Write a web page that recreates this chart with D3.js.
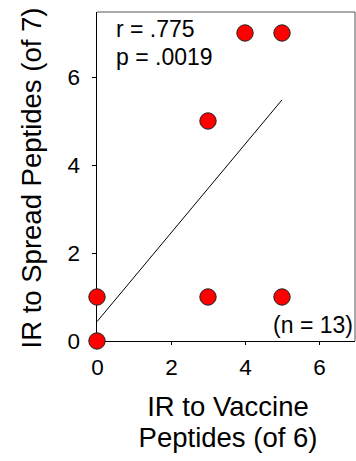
<!DOCTYPE html>
<html><head><meta charset="utf-8">
<script src="https://cdn.jsdelivr.net/npm/d3@7"></script>
<style>body{margin:0;background:#fff}svg{display:block}text{font-family:Arial,"Liberation Sans",sans-serif;fill:#000}</style>
</head><body>
<script>
const xValues = [0, 0, 3, 5, 3, 4, 5];
const yValues = [0, 1, 1, 1, 5, 7, 7];
const xTicks = [0, 2, 4, 6];
const yTicks = [0, 2, 4, 6];
const fitIntercept = 0.44;
const fitSlope = 1.008;
const fitRange = [0, 5];
const statLines = ["r = .775", "p = .0019"];
const nLabel = "(n = 13)";
const xTitle = ["IR to Vaccine", "Peptides (of 6)"];
const yTitle = "IR to Spread Peptides (of 7)";

const W = 356, H = 461;
const L = 97, R = 355, T = 12, B = 341;
const svg = d3.select("body").append("svg").attr("width", W).attr("height", H);
const x = d3.scaleLinear().domain([0, 7]).range([L, L + 37 * 7]);
const y = d3.scaleLinear().domain([0, 7.5]).range([B, B - 44 * 7.5]);

// frame
svg.append("path").attr("d", `M${L},${T}H${R}V${B}`).attr("fill", "none").attr("stroke", "#555").attr("stroke-width", 1);

// axes
const xa = svg.append("g").attr("transform", `translate(0,${B})`)
  .call(d3.axisBottom(x).tickValues(xTicks).tickSize(4).tickPadding(14).tickFormat(d3.format("d")));
xa.select(".domain").attr("d", `M${L},0.5H${R}`).attr("stroke", "#000");
xa.selectAll("text").attr("font-size", 22.5).attr("font-family", "Arial, 'Liberation Sans', sans-serif");
const ya = svg.append("g").attr("transform", `translate(${L},0)`)
  .call(d3.axisLeft(y).tickValues(yTicks).tickSize(5).tickPadding(12).tickFormat(d3.format("d")));
ya.select(".domain").attr("d", `M-0.5,${B}V${T}`).attr("stroke", "#000");
ya.selectAll("text").attr("font-size", 22.5).attr("font-family", "Arial, 'Liberation Sans', sans-serif");

// regression line
svg.append("line")
  .attr("x1", x(fitRange[0])).attr("y1", y(fitIntercept + fitSlope * fitRange[0]))
  .attr("x2", x(fitRange[1])).attr("y2", y(fitIntercept + fitSlope * fitRange[1]))
  .attr("stroke", "#000").attr("stroke-width", 1);

// points
svg.append("g").selectAll("circle").data(xValues.map((v, i) => [v, yValues[i]])).join("circle")
  .attr("cx", d => x(d[0])).attr("cy", d => y(d[1])).attr("r", 8.2)
  .attr("fill", "#ff0000").attr("stroke", "#222").attr("stroke-width", 1);

// annotations
svg.append("g").selectAll("text").data(statLines).join("text")
  .attr("x", 116).attr("y", (d, i) => 37 + i * 28).attr("font-size", 23).text(d => d);
svg.append("text").attr("x", 353).attr("y", 333).attr("text-anchor", "end").attr("font-size", 23).text(nLabel);

// titles
svg.append("g").selectAll("text").data(xTitle).join("text")
  .attr("x", 228).attr("y", (d, i) => 416 + i * 31).attr("text-anchor", "middle").attr("font-size", 27.5).text(d => d);
svg.append("text").attr("transform", `translate(41,178) rotate(-90)`).attr("text-anchor", "middle")
  .attr("font-size", 27.5).text(yTitle);
</script>
</body></html>
